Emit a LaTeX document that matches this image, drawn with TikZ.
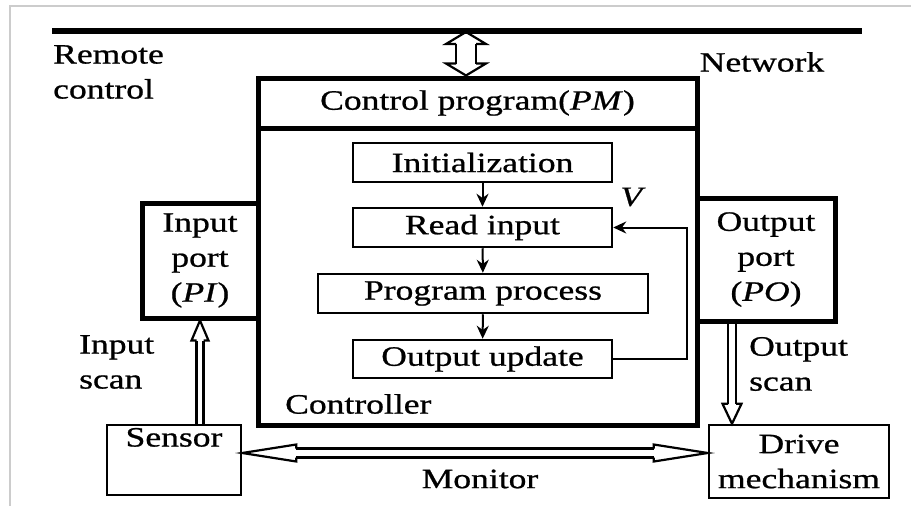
\documentclass[tikz,border=0pt]{standalone}
\usepackage{fontspec}
\setmainfont{Liberation Serif}[FakeStretch=1.27,FakeBold=0.8]
\usetikzlibrary{arrows.meta,calc}
% hollow arrow pieces: head (tail-direction point, tip, length, half width, half gap)
\newcommand\hhead[5]{%
  \coordinate (hb) at ($(#2)!#3!(#1)$);
  \draw[hline] ($(hb)!#5!90:(#2)$) -- ($(hb)!#4!90:(#2)$) -- (#2)
     -- ($(hb)!#4!-90:(#2)$) -- ($(hb)!#5!-90:(#2)$);
}
% shaft (from, to, half gap)
\newcommand\hshaft[3]{%
  \draw[hline] ($(#1)!#3!90:(#2)$) -- ($(#2)!#3!-90:(#1)$);
  \draw[hline] ($(#1)!#3!-90:(#2)$) -- ($(#2)!#3!90:(#1)$);
}
\begin{document}
\begin{tikzpicture}[x=1pt,y=-1pt,
  every node/.style={font=\fontsize{28}{35}\selectfont, inner sep=0pt},
  thickbox/.style={draw, line width=5pt, inner sep=0pt},
  thinbox/.style={draw, line width=2.5pt, inner sep=0pt},
  flow/.style={line width=2pt, -{Stealth[length=13pt,width=12pt]}},
  hline/.style={line width=2.2pt, line join=miter, line cap=butt},
  txt/.style={align=center}
]
\useasboundingbox (0,0) rectangle (911,506);
% screenshot frame
\draw[black!20, line width=2pt] (10,506) -- (10,6) -- (911,6);

% network bus
\coordinate (busL) at (52,31);
\coordinate (busR) at (862,31);
\draw[line width=6pt] (busL) -- (busR);
\coordinate (netj) at (466,32);

% controller
\node[thickbox, minimum width=439pt, minimum height=297pt] (ctrl) at (477.5,276.5) {};
\node[thickbox, minimum width=439pt, minimum height=50pt] (cp) at (477.5,103) {Control program(\textit{PM})};
\node[thickbox, minimum width=116pt, minimum height=115pt, txt] (inport) at (200,260.5) {Input\\port\\(\textit{PI})};
\node[thickbox, minimum width=138pt, minimum height=123pt, txt] (outport) at (766,259.5) {Output\\port\\(\textit{PO})};

% inner steps
\node[thinbox, minimum width=259pt, minimum height=39pt] (init) at (482.5,162.5) {Initialization};
\node[thinbox, minimum width=259pt, minimum height=39pt] (read) at (482.5,227.5) {Read input};
\node[thinbox, minimum width=330pt, minimum height=39pt] (proc) at (483,293.5) {Program process};
\node[thinbox, minimum width=259pt, minimum height=38pt] (outu) at (482.5,359) {Output update};

% bottom boxes
\node[thinbox, minimum width=134pt, minimum height=70pt, txt] (sensor) at (174,460) {Sensor\\\strut};
\node[thinbox, minimum width=180pt, minimum height=73pt, txt] (drive) at (799,461.5) {Drive\\mechanism};

% labels
\node[anchor=west, align=left] (remote) at (53,72) {Remote\\control};
\node (network) at (762,62) {Network};
\node[anchor=west] (ctrllab) at (285,404) {Controller};
\node (vlab) at (633,197) {\textit{V}};
\node[anchor=west, align=left] (inscan) at (79,362) {Input\\scan};
\node[anchor=west, align=left] (outscan) at (749,364) {Output\\scan};
\node (monitor) at (480,479) {Monitor};

% flow arrows
\draw[flow] (init) -- (read);
\draw[flow] (read) -- (proc);
\draw[flow] (proc) -- (outu);
\coordinate (fb) at (687,359);
\draw[flow] (outu.east) -- (fb) |- (read.east);

% network <-> control program
\coordinate (netb) at (netj |- cp.north);
\coordinate (na) at ($(netj)!12pt!(netb)$);
\coordinate (nb) at ($(netb)!12pt!(netj)$);
\hshaft{na}{nb}{10pt}
\hhead{netb}{netj}{12pt}{20pt}{10pt}
\hhead{netj}{netb}{12pt}{20pt}{10pt}

% input scan
\coordinate (isa) at (sensor.north -| inport.south);
\coordinate (isb) at ($(inport.south)!20pt!(isa)$);
\hshaft{isa}{isb}{3.5pt}
\hhead{isa}{inport.south}{20pt}{8.5pt}{3.5pt}

% output scan
\coordinate (osa) at ([xshift=-34pt]outport.south);
\coordinate (ost) at (osa |- drive.north);
\coordinate (osb) at ($(ost)!20pt!(osa)$);
\hshaft{osa}{osb}{4pt}
\hhead{osa}{ost}{20pt}{9.5pt}{4pt}

% monitor
\coordinate (ma) at ([yshift=7pt]sensor.east);
\coordinate (mb) at (ma -| drive.west);
\coordinate (ma2) at ($(ma)!54pt!(mb)$);
\coordinate (mb2) at ($(mb)!54pt!(ma)$);
\hshaft{ma2}{mb2}{4.5pt}
\hhead{mb}{ma}{54pt}{8.5pt}{4.5pt}
\hhead{ma}{mb}{54pt}{8.5pt}{4.5pt}
\end{tikzpicture}
\end{document}
